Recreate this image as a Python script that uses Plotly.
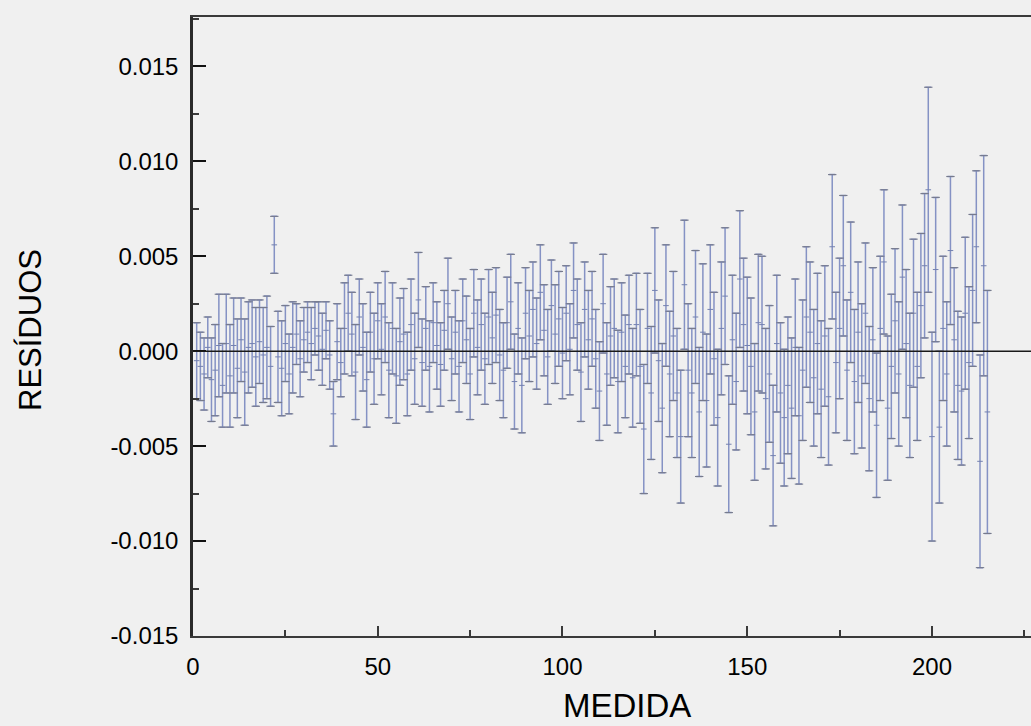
import plotly.graph_objects as go

# Residuals of each measurement (MEDIDA 1..215) and their uncertainties
medida = list(range(1, 216))

residuos = [
    -0.0005, -0.0008, -0.0012, 0.0002, -0.0015, -0.0010, 0.0003, -0.0018, 0.0004, -0.0013,
    0.0003, -0.0009, 0.0006, -0.0011, 0.0002, 0.0004, -0.0003, 0.0005, -0.0002, 0.0002,
    -0.0008, 0.0056, -0.0003, -0.0009, 0.0004, -0.0012, 0.0002, 0.0009, -0.0004, 0.0006,
    0.0010, 0.0004, 0.0012, 0.0008, 0.0001, 0.0011, -0.0002, -0.0033, 0.0005, -0.0006,
    0.0012, 0.0020, 0.0009, -0.0011, 0.0018, 0.0002, -0.0015, 0.0010, -0.0004, 0.0016,
    0.0001, 0.0018, -0.0010, 0.0012, -0.0013, 0.0005, 0.0009, -0.0012, 0.0014, -0.0004,
    0.0027, -0.0006, 0.0012, -0.0008, 0.0015, 0.0003, -0.0007, 0.0011, 0.0025, -0.0004,
    0.0010, -0.0008, 0.0016, 0.0006, -0.0012, 0.0020, 0.0002, 0.0014, -0.0004, 0.0018,
    0.0007, 0.0019, -0.0002, -0.0010, 0.0015, 0.0026, -0.0016, 0.0012, -0.0018, 0.0020,
    0.0008, 0.0022, 0.0004, 0.0031, 0.0011, -0.0003, 0.0024, 0.0009, 0.0017, -0.0001,
    0.0020, 0.0001, 0.0032, 0.0014, -0.0011, 0.0022, 0.0006, 0.0017, -0.0004, -0.0021,
    0.0025, -0.0012, 0.0008, 0.0012, -0.0016, 0.0010, -0.0008, 0.0014, -0.0014, 0.0014,
    -0.0008, -0.0041, 0.0012, -0.0022, 0.0032, -0.0005, -0.0030, 0.0024, -0.0012, 0.0008,
    -0.0022, -0.0045, 0.0035, -0.0010, -0.0022, 0.0018, -0.0032, 0.0010, -0.0026, 0.0022,
    -0.0004, -0.0035, 0.0012, 0.0029, -0.0049, 0.0006, -0.0016, 0.0038, 0.0014, 0.0003,
    -0.0008, -0.0032, 0.0015, 0.0014, -0.0025, -0.0012, -0.0055, 0.0004, -0.0022, -0.0035,
    -0.0018, -0.0030, 0.0002, -0.0034, -0.0010, 0.0018, 0.0010, -0.0014, 0.0004, -0.0020,
    0.0008, -0.0024, 0.0055, -0.0006, 0.0012, 0.0045, -0.0010, 0.0031, -0.0016, 0.0010,
    -0.0013, 0.0020, -0.0025, 0.0006, -0.0039, 0.0012, 0.0047, -0.0030, -0.0008, 0.0016,
    -0.0012, 0.0039, 0.0004, -0.0018, 0.0020, -0.0008, 0.0024, 0.0045, 0.0085, -0.0045,
    0.0043, -0.0040, 0.0012, -0.0012, 0.0053, 0.0006, -0.0018, -0.0021, 0.0020, -0.0006,
    0.0032, 0.0055, -0.0058, 0.0045, -0.0032,
]

erros = [
    0.0020, 0.0018, 0.0019, 0.0016, 0.0022, 0.0024, 0.0027, 0.0022, 0.0026, 0.0027,
    0.0025, 0.0026, 0.0022, 0.0028, 0.0024, 0.0023, 0.0026, 0.0022, 0.0025, 0.0027,
    0.0021, 0.0015, 0.0024, 0.0025, 0.0020, 0.0021, 0.0024, 0.0016, 0.0020, 0.0017,
    0.0016, 0.0019, 0.0014, 0.0018, 0.0019, 0.0015, 0.0018, 0.0017, 0.0020, 0.0018,
    0.0024, 0.0020, 0.0022, 0.0025, 0.0020, 0.0023, 0.0025, 0.0021, 0.0024, 0.0020,
    0.0024, 0.0024, 0.0025, 0.0024, 0.0025, 0.0023, 0.0024, 0.0022, 0.0024, 0.0024,
    0.0025, 0.0023, 0.0022, 0.0024, 0.0021, 0.0023, 0.0022, 0.0021, 0.0024, 0.0022,
    0.0022, 0.0024, 0.0022, 0.0023, 0.0024, 0.0023, 0.0025, 0.0024, 0.0024, 0.0025,
    0.0024, 0.0025, 0.0024, 0.0025, 0.0024, 0.0025, 0.0025, 0.0024, 0.0025, 0.0024,
    0.0024, 0.0025, 0.0024, 0.0025, 0.0024, 0.0025, 0.0024, 0.0026, 0.0025, 0.0024,
    0.0025, 0.0024, 0.0025, 0.0024, 0.0026, 0.0025, 0.0026, 0.0025, 0.0026, 0.0026,
    0.0026, 0.0027, 0.0026, 0.0026, 0.0027, 0.0026, 0.0027, 0.0026, 0.0026, 0.0027,
    0.0030, 0.0034, 0.0029, 0.0035, 0.0033, 0.0032, 0.0034, 0.0032, 0.0033, 0.0034,
    0.0034, 0.0035, 0.0034, 0.0035, 0.0034, 0.0035, 0.0034, 0.0036, 0.0035, 0.0034,
    0.0035, 0.0036, 0.0035, 0.0036, 0.0036, 0.0034, 0.0036, 0.0036, 0.0035, 0.0036,
    0.0036, 0.0036, 0.0036, 0.0036, 0.0037, 0.0036, 0.0037, 0.0036, 0.0037, 0.0036,
    0.0036, 0.0037, 0.0036, 0.0036, 0.0037, 0.0037, 0.0037, 0.0036, 0.0037, 0.0036,
    0.0037, 0.0036, 0.0038, 0.0037, 0.0037, 0.0037, 0.0037, 0.0037, 0.0038, 0.0037,
    0.0038, 0.0037, 0.0038, 0.0038, 0.0038, 0.0038, 0.0038, 0.0038, 0.0038, 0.0038,
    0.0038, 0.0038, 0.0039, 0.0038, 0.0039, 0.0039, 0.0038, 0.0038, 0.0054, 0.0055,
    0.0038, 0.0040, 0.0038, 0.0038, 0.0039, 0.0038, 0.0039, 0.0039, 0.0040, 0.0040,
    0.0040, 0.0040, 0.0056, 0.0058, 0.0064,
]

y_ticks = [-0.015, -0.010, -0.005, 0.000, 0.005, 0.010, 0.015]
y_tick_text = ["-0.015", "-0.010", "-0.005", "0.000", "0.005", "0.010", "0.015"]
x_ticks = [0, 50, 100, 150, 200]

BG = "#f0f0f0"
AXIS = "#3a3a3a"
BAR = "#8592c4"
CAP = "#767a8c"
FONT = "Liberation Sans, Arial, sans-serif"

fig = go.Figure()

# error bar stems
fig.add_trace(go.Scatter(
    x=medida,
    y=residuos,
    mode="markers",
    marker=dict(symbol="line-ew", size=4, line=dict(width=1, color="#7380b0")),
    error_y=dict(type="data", array=erros, visible=True,
                 color=BAR, thickness=1.5, width=3),
    showlegend=False,
    hoverinfo="skip",
))

# grey caps at the ends of each bar
cap_x = medida + medida
cap_y = [r + e for r, e in zip(residuos, erros)] + [r - e for r, e in zip(residuos, erros)]
fig.add_trace(go.Scatter(
    x=cap_x, y=cap_y, mode="markers",
    marker=dict(symbol="line-ew", size=6, line=dict(width=1.1, color=CAP)),
    showlegend=False, hoverinfo="skip",
))

# horizontal reference at zero, drawn over the bars
fig.add_shape(type="line", xref="paper", yref="y", x0=0, x1=1, y0=0, y1=0,
              line=dict(color="#1a1a1a", width=1.6), layer="above")

fig.update_layout(
    width=1031, height=726,
    margin=dict(l=193, r=0, t=17, b=90),
    paper_bgcolor=BG, plot_bgcolor=BG,
    font=dict(family=FONT, color="black"),
    xaxis=dict(
        range=[0, 226.8], showgrid=False, zeroline=False,
        showline=True, linecolor=AXIS, linewidth=2, mirror=True,
        tickmode="array", tickvals=x_ticks, ticktext=[str(v) for v in x_ticks],
        ticks="inside", ticklen=10, tickwidth=2, tickcolor=AXIS,
        minor=dict(ticks="inside", ticklen=6, tickwidth=2, tickcolor=AXIS, dtick=25),
        tickfont=dict(size=24, family=FONT), ticklabelstandoff=8,
    ),
    yaxis=dict(
        range=[-0.015, 0.0176], showgrid=False, zeroline=False,
        showline=True, linecolor="#2a2a2a", linewidth=2.5, mirror=False,
        tickmode="array", tickvals=y_ticks, ticktext=y_tick_text,
        ticks="inside", ticklen=13, tickwidth=2, tickcolor="#111111",
        minor=dict(ticks="inside", ticklen=6, tickwidth=2, tickcolor=AXIS,
                   tickvals=[-0.0125, -0.0075, -0.0025, 0.0025, 0.0075, 0.0125, 0.0175]),
        tickfont=dict(size=24, family=FONT), ticklabelstandoff=7,
    ),
    annotations=[
        dict(text="MEDIDA", xref="paper", yref="paper", x=(627 - 193) / 838, y=-69 / 619,
             xanchor="center", yanchor="middle", showarrow=False,
             font=dict(size=33, family=FONT, color="black")),
        dict(text="RESÍDUOS", xref="paper", yref="paper", x=-(193 - 30) / 838,
             y=(636 - 330) / 619, xanchor="center", yanchor="middle", textangle=-90,
             showarrow=False, font=dict(size=31, family=FONT, color="black")),
    ],
)

fig.write_html("out.html")
